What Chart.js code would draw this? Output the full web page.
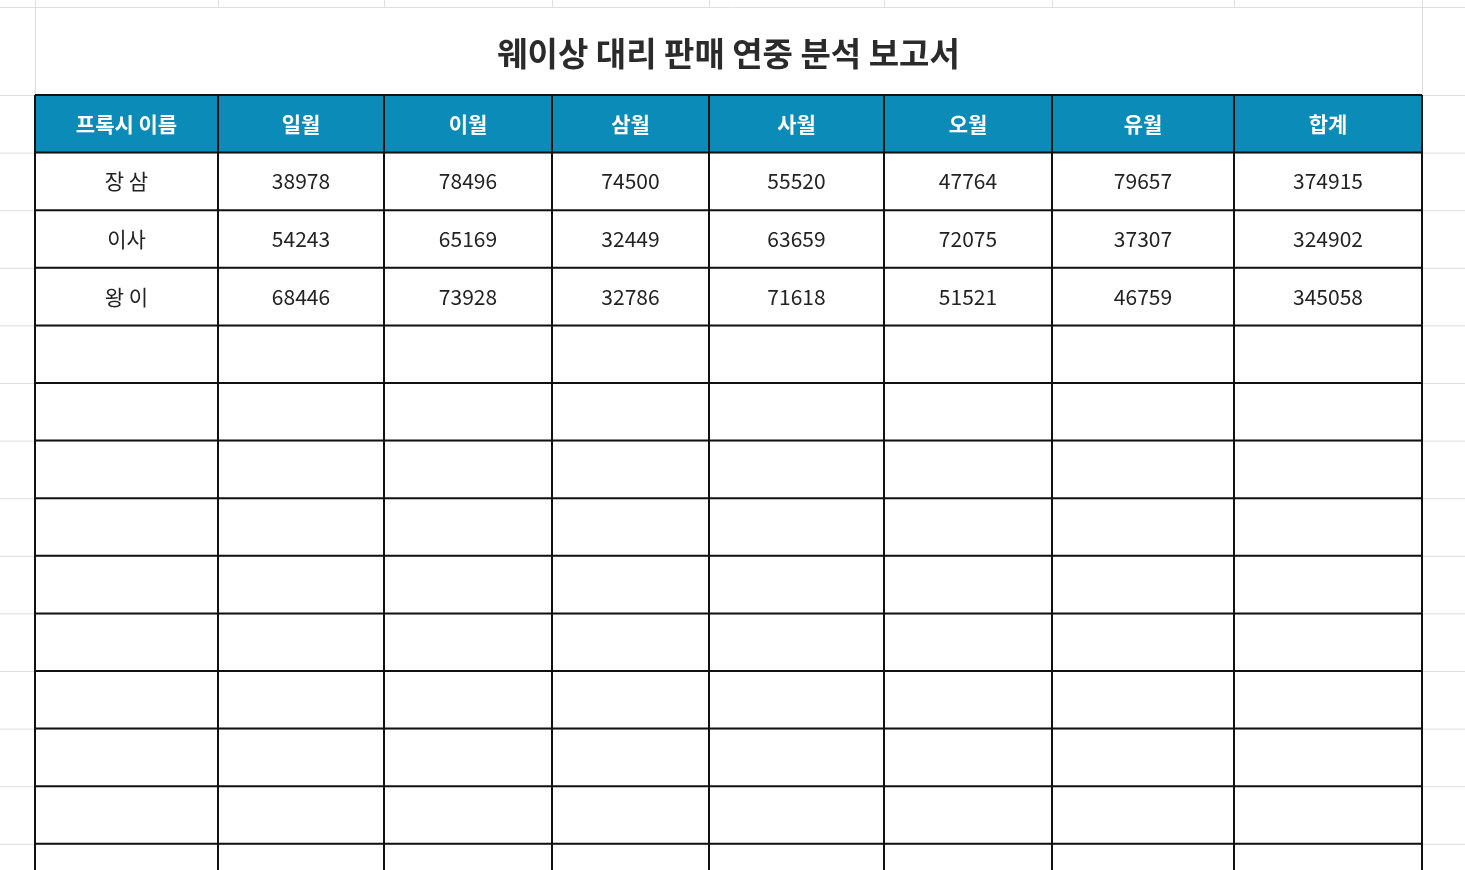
<!DOCTYPE html>
<html><head><meta charset="utf-8">
<script src="https://cdn.jsdelivr.net/npm/chart.js@4"></script>
<style>html,body{margin:0;padding:0;background:#fff;overflow:hidden}</style>
</head><body>
<canvas id="c" width="1465" height="870"></canvas>
<script>
const title = '웨이상 대리 판매 연중 분석 보고서';
const headers = ['프록시 이름','일월','이월','삼월','사월','오월','유월','합계'];
const names = ['장 삼','이사','왕 이'];
const jan = [38978,54243,68446];
const feb = [78496,65169,73928];
const mar = [74500,32449,32786];
const apr = [55520,63659,71618];
const may = [47764,72075,51521];
const jun = [79657,37307,46759];
const total = [374915,324902,345058];

// layout (not data)
const colEdges = [35,218,384,552,709,884,1052,1234,1422];
const titleTop = 7, headTop = 95, rowH = 57.6, nRows = 14;
const FONT = '"Noto Sans CJK KR", "Noto Sans", sans-serif';

const rows = names.map((n,i)=>[n,jan[i],feb[i],mar[i],apr[i],may[i],jun[i],total[i]]);

const tablePlugin = {
  id:'table',
  beforeDatasetsDraw(chart){
    const ctx = chart.ctx, xs = chart.scales.x, ys = chart.scales.y;
    const X = v=>xs.getPixelForValue(v), Y = v=>ys.getPixelForValue(v);
    ctx.save();
    ctx.fillStyle='#fff'; ctx.fillRect(0,0,chart.width,chart.height);
    // faint spreadsheet grid
    ctx.strokeStyle='#dedede'; ctx.lineWidth=1;
    colEdges.forEach(e=>{ctx.beginPath();ctx.moveTo(X(e)+.5,Y(0));ctx.lineTo(X(e)+.5,Y(870));ctx.stroke();});
    const hl=[titleTop];
    for(let r=0;r<=nRows;r++) hl.push(headTop+r*rowH);
    hl.forEach(h=>{ctx.beginPath();ctx.moveTo(X(0),Y(h)+.5);ctx.lineTo(X(1465),Y(h)+.5);ctx.stroke();});
    // title cell
    ctx.fillStyle='#fff';
    ctx.fillRect(X(colEdges[0])+1,Y(titleTop)+1,X(colEdges[8])-X(colEdges[0])-1,Y(headTop)-Y(titleTop)-1);
    ctx.fillStyle='#2b2b2b'; ctx.font='bold 33px '+FONT; ctx.textAlign='center'; ctx.textBaseline='middle';
    ctx.fillText(title,X((colEdges[0]+colEdges[8])/2),Y((titleTop+headTop)/2+2));
    // header
    ctx.fillStyle='#0b8bb8';
    ctx.fillRect(X(colEdges[0]),Y(headTop),X(colEdges[8])-X(colEdges[0]),rowH);
    ctx.fillStyle='#fff'; ctx.font='bold 21px '+FONT;
    headers.forEach((h,i)=>ctx.fillText(h,X((colEdges[i]+colEdges[i+1])/2),Y(headTop+rowH/2)));
    // body
    ctx.fillStyle='#222'; ctx.font='21px '+FONT;
    rows.forEach((r,ri)=>r.forEach((v,ci)=>{
      ctx.fillText(String(v),X((colEdges[ci]+colEdges[ci+1])/2),Y(headTop+rowH*(ri+1.5)));
    }));
    // borders
    ctx.strokeStyle='#111'; ctx.lineWidth=2;
    for(let r=0;r<=nRows;r++){const y=Y(headTop+r*rowH);ctx.beginPath();ctx.moveTo(X(colEdges[0]),y);ctx.lineTo(X(colEdges[8]),y);ctx.stroke();}
    colEdges.forEach(e=>{ctx.beginPath();ctx.moveTo(X(e),Y(headTop));ctx.lineTo(X(e),Y(870));ctx.stroke();});
    ctx.restore();
  }
};

new Chart(document.getElementById('c'),{
  type:'scatter',
  data:{datasets:[{data:[],pointRadius:0}]},
  options:{responsive:false,animation:false,events:[],
    layout:{padding:0},
    plugins:{legend:{display:false},tooltip:{enabled:false},title:{display:false}},
    scales:{x:{type:'linear',min:0,max:1465,display:false},
            y:{type:'linear',min:0,max:870,reverse:true,display:false}}},
  plugins:[tablePlugin]
});
</script>
</body></html>
